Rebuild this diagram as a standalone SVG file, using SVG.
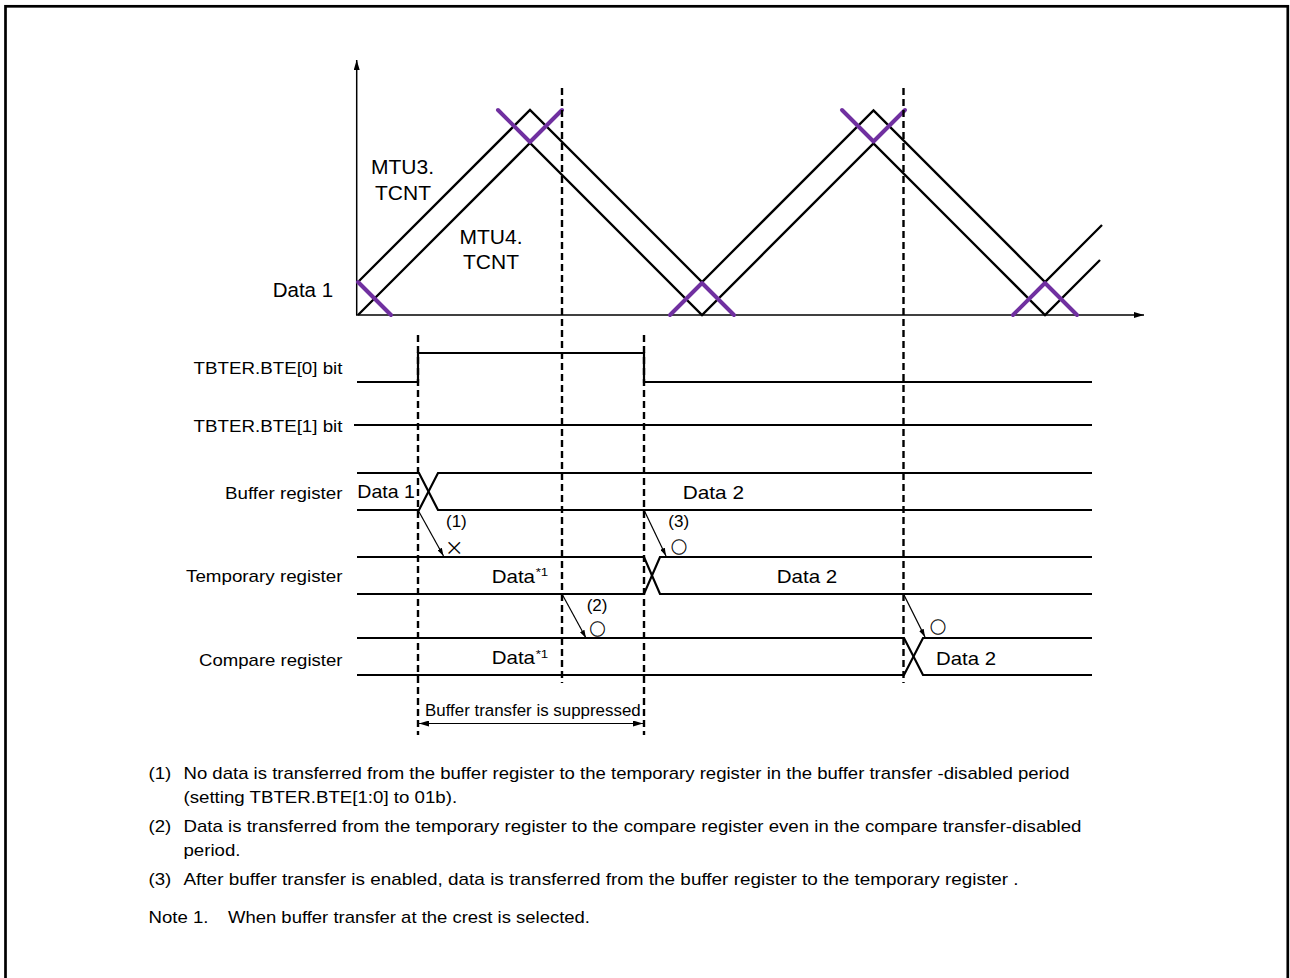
<svg xmlns="http://www.w3.org/2000/svg" width="1290" height="978" viewBox="0 0 1290 978">
<style>
text{font-family:"Liberation Sans",Arial,sans-serif;fill:#000}
.lbl{font-size:17px}
.dat{font-size:18.5px}
.big{font-size:21px}
.note{font-size:17px}
.sup{font-size:11px}
.sym{font-family:"Noto Sans CJK JP","DejaVu Sans",sans-serif;font-size:16px;stroke:#000;stroke-width:0.35}
.x{font-family:"Noto Sans CJK JP","DejaVu Sans",sans-serif;font-size:19px}
.w{fill:none;stroke:#000;stroke-width:2.3;stroke-linejoin:miter}
.sig{fill:none;stroke:#000;stroke-width:2.2}
.p{fill:none;stroke:#7030A0;stroke-width:4;stroke-linecap:round;stroke-linejoin:round}
.dash{stroke:#000;stroke-width:2.4;stroke-dasharray:7 4}
.thin{stroke:#000;stroke-width:1.2;fill:none}
.ax{stroke:#000;stroke-width:1.5;fill:none}
</style>
<defs>
<marker id="ah" viewBox="0 0 8 5" refX="8" refY="2.5" markerWidth="8" markerHeight="5" markerUnits="userSpaceOnUse" orient="auto"><path d="M0,0 L8,2.5 L0,5 z" fill="#000"/></marker>
<marker id="axh" viewBox="0 0 10 6" refX="10" refY="3" markerWidth="10" markerHeight="6" markerUnits="userSpaceOnUse" orient="auto"><path d="M0,0 L10,3 L0,6 z" fill="#000"/></marker>
<marker id="dh" viewBox="0 0 10 6" refX="10" refY="3" markerWidth="10" markerHeight="6" markerUnits="userSpaceOnUse" orient="auto-start-reverse"><path d="M0,0 L10,3 L0,6 z" fill="#000"/></marker>
</defs>
<rect x="0" y="0" width="1290" height="978" fill="#fff"/>
<rect x="5.5" y="6.3" width="1282.3" height="1000" fill="none" stroke="#000" stroke-width="2.7"/>

<g id="axes">
<line class="ax" x1="356.7" y1="315" x2="356.7" y2="60" marker-end="url(#axh)"/>
<line class="ax" x1="356" y1="315" x2="1144" y2="315" marker-end="url(#axh)"/>
</g>

<g id="mtu3-tcnt">
<polyline class="w" points="358,282 530,110 702,282 873.5,110.5 1045,282 1102,225"/>
<text class="big" x="402.5" y="174" text-anchor="middle">MTU3.</text>
<text class="big" x="403" y="200" text-anchor="middle">TCNT</text>
</g>
<g id="mtu4-tcnt">
<polyline class="w" points="358,315 530,143 702,315 873.5,143.5 1045,315 1100,260"/>
<text class="big" x="491" y="244" text-anchor="middle">MTU4.</text>
<text class="big" x="491" y="269" text-anchor="middle">TCNT</text>
</g>
<g id="data1-level">
<text x="272.7" y="296.7" style="font-size:20.5px">Data 1</text>
</g>
<g id="transfer-marks">
<path class="p" d="M358,282 L391,315"/>
<path class="p" d="M498,110 L530,142 L562,110"/>
<path class="p" d="M842,110 L873.5,141.5 L905,110"/>
<path class="p" d="M670,315 L702,283 L734,315"/>
<path class="p" d="M1013,315 L1045,283 L1077,315"/>
</g>

<g id="bte0">
<text class="lbl" x="193.5" y="374" textLength="149" lengthAdjust="spacingAndGlyphs">TBTER.BTE[0] bit</text>
<polyline class="sig" points="357,382 418,382 418,353 644,353 644,382 1092,382"/>
</g>
<g id="bte1">
<text class="lbl" x="193.5" y="432" textLength="149" lengthAdjust="spacingAndGlyphs">TBTER.BTE[1] bit</text>
<line class="sig" x1="354" y1="425" x2="1092" y2="425"/>
</g>
<g id="buffer-register">
<text class="lbl" x="225" y="498.5" textLength="117.5" lengthAdjust="spacingAndGlyphs">Buffer register</text>
<polyline class="sig" points="357,473 419,473 438,510 1092,510"/>
<polyline class="sig" points="357,510 419,510 438,473 1092,473"/>
<text class="dat" x="357.3" y="498" textLength="57.7" lengthAdjust="spacingAndGlyphs">Data 1</text>
<text class="dat" x="682.7" y="499" textLength="61.3" lengthAdjust="spacingAndGlyphs">Data 2</text>
</g>
<g id="temporary-register">
<text class="lbl" x="186" y="582" textLength="156.5" lengthAdjust="spacingAndGlyphs">Temporary register</text>
<polyline class="sig" points="357,557 644,557 660,594 1092,594"/>
<polyline class="sig" points="357,594 644,594 660,557 1092,557"/>
<text class="dat" x="491.7" y="582.5" textLength="43.3" lengthAdjust="spacingAndGlyphs">Data</text>
<text class="sup" x="535.7" y="576" textLength="12.6" lengthAdjust="spacingAndGlyphs">*1</text>
<text class="dat" x="776.7" y="582.5" textLength="60.6" lengthAdjust="spacingAndGlyphs">Data 2</text>
</g>
<g id="compare-register">
<text class="lbl" x="199" y="665.5" textLength="143.5" lengthAdjust="spacingAndGlyphs">Compare register</text>
<polyline class="sig" points="357,638 904,638 923,675 1092,675"/>
<polyline class="sig" points="357,675 904,675 923,638 1092,638"/>
<text class="dat" x="491.7" y="664" textLength="43.3" lengthAdjust="spacingAndGlyphs">Data</text>
<text class="sup" x="535.7" y="657.5" textLength="12.6" lengthAdjust="spacingAndGlyphs">*1</text>
<text class="dat" x="936" y="665" textLength="60" lengthAdjust="spacingAndGlyphs">Data 2</text>
</g>

<g id="connectors">
<line class="dash" x1="418" y1="335" x2="418" y2="735"/>
<line class="dash" x1="644" y1="335" x2="644" y2="735"/>
<line class="dash" x1="562" y1="88" x2="562" y2="683"/>
<line class="dash" x1="903.5" y1="88" x2="903.5" y2="683"/>
<line class="thin" x1="418" y1="510" x2="443.5" y2="556" marker-end="url(#ah)"/>
<line class="thin" x1="562" y1="594" x2="586" y2="638" marker-end="url(#ah)"/>
<line class="thin" x1="644" y1="510" x2="666" y2="556" marker-end="url(#ah)"/>
<line class="thin" x1="903.5" y1="594" x2="925" y2="637" marker-end="url(#ah)"/>
<line class="thin" x1="419" y1="723.5" x2="643" y2="723.5" marker-start="url(#dh)" marker-end="url(#dh)"/>
</g>

<g id="transfer-labels">
<text class="lbl" x="446" y="527">(1)</text>
<text class="x" x="454.3" y="546.5" text-anchor="middle" dominant-baseline="central">×</text>
<text class="lbl" x="586.7" y="611">(2)</text>
<text class="sym" x="597.5" y="628" text-anchor="middle" dominant-baseline="central">○</text>
<text class="lbl" x="668.3" y="527">(3)</text>
<text class="sym" x="679" y="546" text-anchor="middle" dominant-baseline="central">○</text>
<text class="sym" x="938" y="626" text-anchor="middle" dominant-baseline="central">○</text>
<text x="425" y="716" style="font-size:16.9px" textLength="215.7" lengthAdjust="spacingAndGlyphs">Buffer transfer is suppressed</text>
</g>

<g id="notes">
<text class="note" x="148.5" y="778.5" textLength="22.8" lengthAdjust="spacingAndGlyphs">(1)</text>
<text class="note" x="183.5" y="778.5" textLength="886" lengthAdjust="spacingAndGlyphs">No data is transferred from the buffer register to the temporary register in the buffer transfer -disabled period</text>
<text class="note" x="183.5" y="802.5" textLength="273.6" lengthAdjust="spacingAndGlyphs">(setting TBTER.BTE[1:0] to 01b).</text>
<text class="note" x="148.5" y="831.5" textLength="22.8" lengthAdjust="spacingAndGlyphs">(2)</text>
<text class="note" x="183.5" y="831.5" textLength="898" lengthAdjust="spacingAndGlyphs">Data is transferred from the temporary register to the  compare register even in the compare transfer-disabled</text>
<text class="note" x="183.5" y="855.5" textLength="57" lengthAdjust="spacingAndGlyphs">period.</text>
<text class="note" x="148.5" y="884.5" textLength="22.8" lengthAdjust="spacingAndGlyphs">(3)</text>
<text class="note" x="183.5" y="884.5" textLength="835" lengthAdjust="spacingAndGlyphs">After buffer transfer is enabled, data is transferred from the buffer register to the temporary register .</text>
<text class="note" x="148.5" y="922.5" textLength="60" lengthAdjust="spacingAndGlyphs">Note 1.</text>
<text class="note" x="228" y="922.5" textLength="362" lengthAdjust="spacingAndGlyphs">When buffer transfer at the crest is selected.</text>
</g>
</svg>
